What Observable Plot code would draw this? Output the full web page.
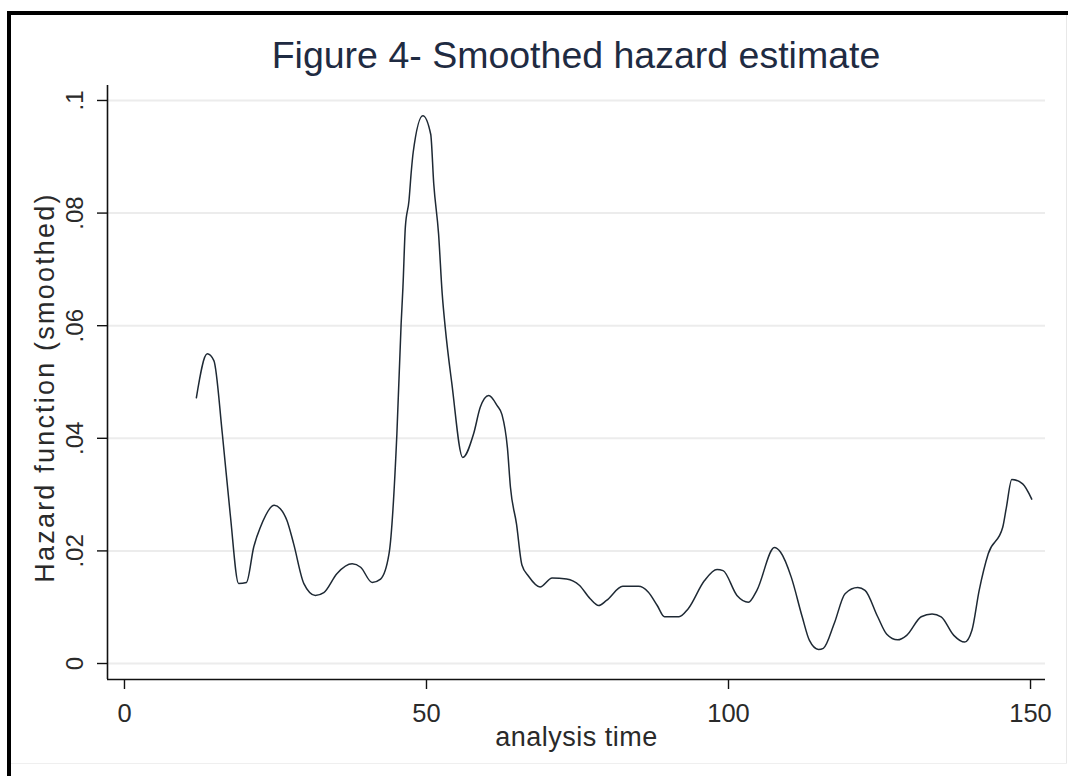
<!DOCTYPE html>
<html>
<head>
<meta charset="utf-8">
<script src="https://cdn.jsdelivr.net/npm/d3@7"></script>
<script src="https://cdn.jsdelivr.net/npm/@observablehq/plot@0.6"></script>
<style>
  html, body { margin: 0; padding: 0; background: #fff; }
  #wrap { position: relative; width: 1068px; height: 776px; overflow: hidden; background: #fff;
          font-family: Arial, "Liberation Sans", sans-serif; }
  #title { position: relative; height: 80px; }
  #title span { position: absolute; left: 0; width: 1152px; top: 37px; text-align: center;
                font-size: 37.5px; line-height: 37px; color: #1f2b42; white-space: nowrap; }
  #border { position: absolute; left: 7px; top: 11px; width: 1100px; height: 800px;
            border-left: 4px solid #000; border-top: 4px solid #000; pointer-events: none; }
  #edgeR { position: absolute; left: 1066px; top: 15px; width: 1px; height: 748px; background: #e8e8e8; }
  #edgeB { position: absolute; left: 11px; top: 763px; width: 1056px; height: 1px; background: #efefef; }
  svg { display: block; }
</style>
</head>
<body>
<div id="wrap">
  <div id="title"><span>Figure 4- Smoothed hazard estimate</span></div>
  <div id="chart"></div>
  <div id="edgeR"></div>
  <div id="edgeB"></div>
  <div id="border"></div>
</div>
<script>
// analysis time values
const time = [
  11.9, 13.7, 14.8, 16.2, 17.5, 18.9, 20.2, 21.4, 22.5, 24.8, 25.8, 26.9, 28.0, 29.7,
  31.6, 33.0, 35.2, 37.7, 39.1, 41.0, 42.4, 43.8, 45.1, 45.8, 46.1, 46.5, 47.1, 47.5,
  47.8, 49.4, 50.7, 51.2, 52.0, 52.6, 53.1, 54.2, 56.0, 57.8, 58.9, 60.3, 61.7, 62.5,
  63.4, 63.9, 64.9, 65.8, 66.9, 68.8, 70.8, 73.2, 75.3, 77.1, 78.5, 79.8, 82.5, 85.1,
  86.7, 88.2, 89.4, 91.8, 93.3, 96.0, 98.1, 99.1, 101.4, 103.3, 104.7, 107.6, 108.6,
  110.4, 112.2, 113.4, 114.9, 115.7, 117.5, 119.3, 121.4, 122.6, 124.7, 126.2, 128.0,
  129.5, 131.9, 133.7, 135.2, 137.3, 139.1, 140.3, 141.5, 143.0, 145.4, 146.0, 146.9,
  148.7, 150.2
];
// smoothed hazard values
const hazard = [
  0.0472, 0.0550, 0.0538, 0.0408, 0.0266, 0.0142, 0.0144, 0.0207, 0.0242, 0.0281, 0.0275, 0.0254, 0.0213, 0.0142,
  0.0121, 0.0126, 0.0160, 0.0177, 0.0171, 0.0144, 0.0150, 0.0195, 0.0408, 0.0603, 0.0668, 0.0775, 0.0822, 0.0876,
  0.0908, 0.0973, 0.0940, 0.0852, 0.0763, 0.0657, 0.0597, 0.0497, 0.0366, 0.0408, 0.0455, 0.0476, 0.0458, 0.0442,
  0.0383, 0.0313, 0.0248, 0.0175, 0.0155, 0.0136, 0.0152, 0.0150, 0.0139, 0.0115, 0.0103, 0.0112, 0.0137, 0.0137,
  0.0127, 0.0103, 0.0083, 0.0083, 0.0097, 0.0147, 0.0167, 0.0165, 0.0121, 0.0109, 0.0130, 0.0206, 0.0198,
  0.0153, 0.0083, 0.0041, 0.0025, 0.0027, 0.0071, 0.0124, 0.0135, 0.0130, 0.0083, 0.0052, 0.0042,
  0.0050, 0.0083, 0.0088, 0.0083, 0.0050, 0.0038, 0.0059, 0.0130, 0.0195, 0.0242, 0.0277, 0.0327,
  0.0319, 0.0292
];
const xTicks = [0, 50, 100, 150];
const yTicks = [0, 0.02, 0.04, 0.06, 0.08, 0.1];
const yTickLabels = ["0", ".02", ".04", ".06", ".08", ".1"];
const xDomain = [-2.81, 152.48];
const yDomain = [-0.00284, 0.10266];
const yTitle = "Hazard function (smoothed)";
const xTitle = "analysis time";

const data = time.map((t, i) => ({t, h: hazard[i]}));
const yLabelFor = new Map(yTicks.map((v, i) => [v, yTickLabels[i]]));

const ink = "#2a2a2a";
const chart = Plot.plot({
  width: 1068,
  height: 696,
  marginLeft: 107,
  marginRight: 23,
  marginTop: 5,
  marginBottom: 97,
  style: {fontFamily: 'Arial, "Liberation Sans", sans-serif', background: "#fff", color: ink, overflow: "visible"},
  x: {domain: xDomain},
  y: {domain: yDomain},
  marks: [
    Plot.ruleY(yTicks, {stroke: "#ececec", strokeWidth: 2}),
    Plot.line(data, {x: "t", y: "h", stroke: "#1e2934", strokeWidth: 1.5, curve: "monotone-x"}),
    Plot.ruleX([xDomain[0]], {stroke: "#111", strokeWidth: 1.6}),
    Plot.ruleY([yDomain[0]], {stroke: "#111", strokeWidth: 1.6}),
    Plot.axisX({ticks: xTicks, tickSize: 10, tickPadding: 14, fontSize: 25.5, label: null,
                tickFormat: d => String(d), stroke: "#111", strokeWidth: 1.4, fill: ink}),
    Plot.axisY({ticks: yTicks, tickSize: 10, tickFormat: () => "", label: null, stroke: "#111", strokeWidth: 1.4}),
    Plot.text(yTicks, {y: d => d, text: d => yLabelFor.get(d), frameAnchor: "left", dx: -25,
                       rotate: -90, textAnchor: "middle", lineAnchor: "bottom", fontSize: 24, fill: ink}),
    Plot.text([yTitle], {frameAnchor: "left", dx: -54, dy: 5, rotate: -90,
                       textAnchor: "middle", lineAnchor: "bottom", fontSize: 27, fill: ink}),
    Plot.text([xTitle], {frameAnchor: "bottom", dy: 66, textAnchor: "middle",
                       lineAnchor: "bottom", fontSize: 27, fill: ink})
  ]
});
document.getElementById("chart").appendChild(chart);
for (const t of chart.querySelectorAll("text")) {
  if (t.textContent === yTitle) t.style.letterSpacing = "2.2px";
  if (t.textContent === xTitle) t.style.letterSpacing = "0.5px";
}
</script>
</body>
</html>
